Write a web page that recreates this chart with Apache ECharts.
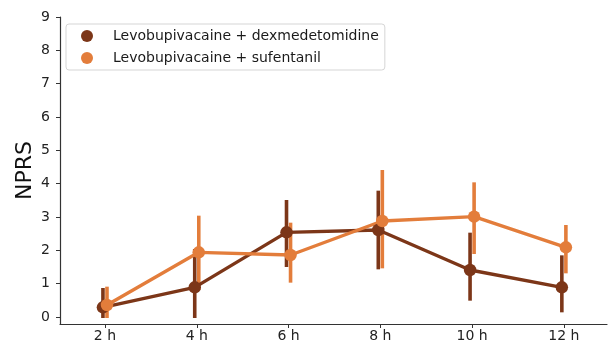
<!DOCTYPE html>
<html>
<head>
<meta charset="utf-8">
<script src="https://cdn.jsdelivr.net/npm/echarts@6/dist/echarts.min.js"></script>
<style>
  html, body { margin: 0; padding: 0; background: #fff; }
  #chart { width: 609px; height: 346px; }
</style>
</head>
<body>
<div id="chart"></div>
<script>
// Time points after surgery
const categories = ['2 h', '4 h', '6 h', '8 h', '10 h', '12 h'];

// Levobupivacaine + dexmedetomidine: mean NPRS and CI bounds
const dexMean = [0.29, 0.89, 2.54, 2.61, 1.41, 0.89];
const dexLow  = [-0.03, -0.03, 1.50, 1.43, 0.49, 0.14];
const dexHigh = [0.87, 2.04, 3.51, 3.79, 2.53, 1.85];

// Levobupivacaine + sufentanil: mean NPRS and CI bounds
const sufMean = [0.36, 1.94, 1.86, 2.88, 3.01, 2.09];
const sufLow  = [-0.03, 0.81, 1.03, 1.46, 1.89, 1.31];
const sufHigh = [0.91, 3.04, 2.83, 4.41, 4.04, 2.76];

const yTicks = [0, 1, 2, 3, 4, 5, 6, 7, 8, 9];

const seriesNames = ['Levobupivacaine + dexmedetomidine', 'Levobupivacaine + sufentanil'];
const colors = ['#7c3618', '#e37d3b'];
const DODGE = 0.022;

function points(mean, shift) {
  return mean.map((v, i) => [i + shift, v]);
}
function bars(low, high, shift) {
  return low.map((lo, i) => [i + shift, lo, high[i]]);
}

function errorSeries(name, data, color) {
  return {
    name: name,
    type: 'custom',
    data: data,
    encode: { x: 0, y: [1, 2] },
    renderItem: function (params, api) {
      const x = api.value(0);
      const p1 = api.coord([x, api.value(1)]);
      const p2 = api.coord([x, api.value(2)]);
      return {
        type: 'line',
        shape: { x1: p1[0], y1: p1[1], x2: p2[0], y2: p2[1] },
        style: { stroke: color, lineWidth: 3.6 }
      };
    },
    silent: true
  };
}

function lineSeries(name, data, color) {
  return {
    name: name,
    type: 'line',
    data: data,
    symbol: 'circle',
    symbolSize: 12.5,
    showSymbol: true,
    lineStyle: { color: color, width: 3.4 },
    itemStyle: { color: color },
    emphasis: { disabled: true },
    animation: false
  };
}

const chart = echarts.init(document.getElementById('chart'), null, { renderer: 'canvas' });

chart.setOption({
  animation: false,
  textStyle: { fontFamily: 'DejaVu Sans' },
  grid: { left: 60, right: 2, top: 17, bottom: 22, containLabel: false },
  legend: {
    orient: 'vertical',
    left: 66,
    top: 24,
    data: seriesNames.map((n, i) => ({ name: n, icon: 'circle', itemStyle: { color: colors[i] } })),
    itemWidth: 12,
    itemHeight: 12,
    itemGap: 8,
    padding: [5, 6, 5, 15],
    borderColor: '#d5d5d5',
    borderWidth: 1,
    borderRadius: 3,
    backgroundColor: '#fff',
    textStyle: { fontSize: 14, color: '#1a1a1a', fontFamily: 'DejaVu Sans', padding: [0, 0, 0, 15] }
  },
  xAxis: {
    type: 'value',
    min: -0.49,
    max: 5.47,
    splitLine: { show: false },
    axisLine: { show: true, onZero: false, lineStyle: { color: '#333', width: 1.2 } },
    axisTick: { show: true, length: 4, customValues: [0, 1, 2, 3, 4, 5], lineStyle: { color: '#333' } },
    axisLabel: {
      customValues: [0, 1, 2, 3, 4, 5],
      formatter: v => categories[Math.round(v)],
      fontSize: 14,
      color: '#222',
      margin: 5
    }
  },
  yAxis: {
    type: 'value',
    min: -0.21,
    max: 9,
    name: 'NPRS',
    nameLocation: 'middle',
    nameMoveOverlap: false,
    nameGap: 24,
    nameTextStyle: { fontSize: 22, color: '#111' },
    splitLine: { show: false },
    axisLine: { show: true, onZero: false, lineStyle: { color: '#333', width: 1.2 } },
    axisTick: { show: true, length: 4, customValues: yTicks, lineStyle: { color: '#333' } },
    axisLabel: { customValues: yTicks, fontSize: 14, color: '#222', margin: 10 }
  },
  series: [
    errorSeries(seriesNames[0], bars(dexLow, dexHigh, -DODGE), colors[0]),
    lineSeries(seriesNames[0], points(dexMean, -DODGE), colors[0]),
    errorSeries(seriesNames[1], bars(sufLow, sufHigh, DODGE), colors[1]),
    lineSeries(seriesNames[1], points(sufMean, DODGE), colors[1])
  ]
});
</script>
</body>
</html>
